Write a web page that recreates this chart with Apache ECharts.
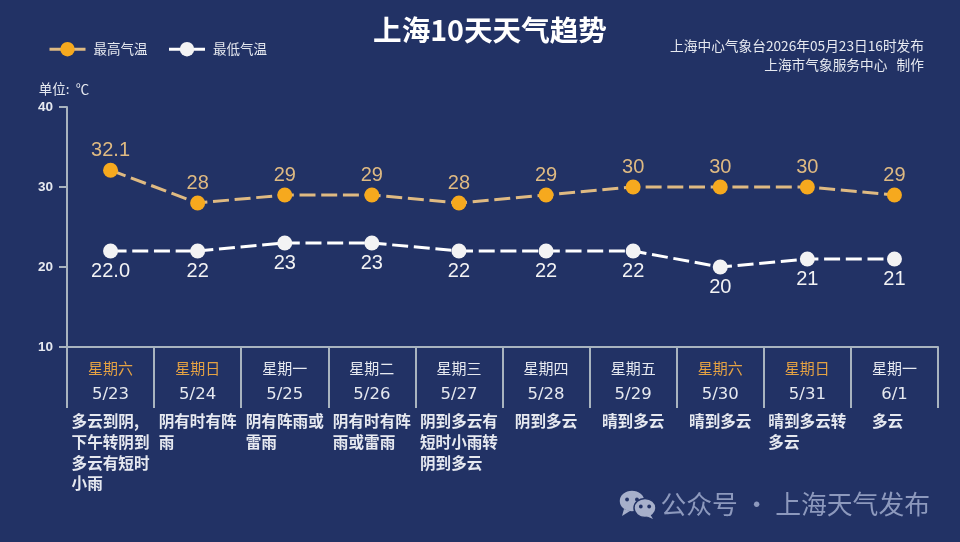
<!DOCTYPE html>
<html>
<head>
<meta charset="utf-8">
<style>html,body{margin:0;padding:0;background:#223265}#chart{width:960px;height:542px}</style>
<script src="https://cdn.jsdelivr.net/npm/echarts@6/dist/echarts.min.js"></script>
</head>
<body>
<div id="chart"></div>
<script>
// Ten-day temperature outlook for Shanghai
const dates = ['5/23','5/24','5/25','5/26','5/27','5/28','5/29','5/30','5/31','6/1'];
const weekdays = ['星期六','星期日','星期一','星期二','星期三','星期四','星期五','星期六','星期日','星期一'];
const conditions = [
  '多云到阴,\n下午转阴到\n多云有短时\n小雨',
  '阴有时有阵\n雨',
  '阴有阵雨或\n雷雨',
  '阴有时有阵\n雨或雷雨',
  '阴到多云有\n短时小雨转\n阴到多云',
  '阴到多云',
  '晴到多云',
  '晴到多云',
  '晴到多云转\n多云',
  '多云'
];
const highTemps = [32.1, 28, 29, 29, 28, 29, 30, 30, 30, 29];
const lowTemps = [22.0, 22, 23, 23, 22, 22, 22, 20, 21, 21];
const highLabels = ['32.1','28','29','29','28','29','30','30','30','29'];
const lowLabels = ['22.0','22','23','23','22','22','22','20','21','21'];
const yTicks = { min: 10, max: 40, step: 10 };

const BG = '#223265';
const AXIS = '#a9b4bf';
const ORANGE = '#f6a91e';
const TAN = '#dfba82';
const WHITE = '#f3f3f4';
const SOFT = '#e6e9f0';
const CJK = '"Noto Sans CJK SC","Noto Sans",sans-serif';
const LATIN = '"Liberation Sans",Arial,sans-serif';

const chart = echarts.init(document.getElementById('chart'), null, { renderer: 'canvas' });

const bubble = (cx, cy, rx, ry, tail) => [
  { type: 'ellipse', shape: { cx, cy, rx, ry }, style: { fill: '#a7b0cb', stroke: BG, lineWidth: 1.5 } },
  { type: 'polygon', shape: { points: tail }, style: { fill: '#a7b0cb' } },
  { type: 'circle', shape: { cx: cx - rx * 0.38, cy: cy - 1.5, r: 1.9 }, style: { fill: BG } },
  { type: 'circle', shape: { cx: cx + rx * 0.38, cy: cy - 1.5, r: 1.9 }, style: { fill: BG } }
];

chart.setOption({
  animation: false,
  backgroundColor: BG,
  title: [
    {
      text: '上海10天天气趋势', left: 485, top: 11, textAlign: 'center',
      textStyle: { color: '#ffffff', fontFamily: CJK, fontSize: 28.6, fontWeight: 'bold' }
    },
    {
      text: '上海中心气象台2026年05月23日16时发布\n上海市气象服务中心   制作',
      left: 919, top: 31, textAlign: 'right',
      textStyle: { color: SOFT, fontFamily: CJK, fontSize: 13.7, fontWeight: 'normal', lineHeight: 19, align: 'right' }
    },
    {
      text: '公众号 · 上海天气发布', left: 925, top: 486, textAlign: 'right',
      textStyle: { color: '#8d99bd', fontFamily: CJK, fontSize: 25.8, fontWeight: 'normal' }
    }
  ],
  legend: {
    left: 48, top: 42, padding: 0, itemWidth: 36, itemHeight: 18, itemGap: 20,
    textStyle: { color: SOFT, fontFamily: CJK, fontSize: 13.5, padding: [0, 0, 0, 3] },
    lineStyle: { type: 'solid', width: 3 },
    data: ['最高气温', '最低气温']
  },
  grid: { left: 67, right: 22, top: 107, bottom: 195 },
  xAxis: {
    type: 'category',
    data: dates,
    boundaryGap: true,
    axisLine: { lineStyle: { color: AXIS, width: 2 } },
    axisTick: { show: true, length: 61, alignWithLabel: false, lineStyle: { color: AXIS, width: 2 } },
    axisLabel: {
      margin: 10,
      interval: 0,
      formatter: (value, i) => {
        const tag = i === 0 || i === 1 || i === 7 || i === 8 ? 'we' : 'wd';
        const lines = conditions[i].split('\n').map(t => `{c|${t}}`).join('\n');
        return `{${tag}|${weekdays[i]}}\n{d|${value}}\n${lines}`;
      },
      rich: {
        wd: { color: SOFT, fontFamily: CJK, fontSize: 15, height: 22, lineHeight: 22, align: 'center' },
        we: { color: '#e5a243', fontFamily: CJK, fontSize: 15, height: 22, lineHeight: 22, align: 'center' },
        d: { color: SOFT, fontFamily: '"DejaVu Sans",sans-serif', fontSize: 16.5, height: 32, lineHeight: 32, align: 'center' },
        c: { color: SOFT, fontFamily: CJK, fontSize: 15.6, fontWeight: 'bold', height: 20.7, lineHeight: 20.7, align: 'left' }
      }
    }
  },
  yAxis: {
    type: 'value',
    min: yTicks.min, max: yTicks.max, interval: yTicks.step,
    name: '单位:  ℃',
    nameLocation: 'end',
    nameGap: 11,
    nameTextStyle: { color: SOFT, fontFamily: CJK, fontSize: 13.5, align: 'center', padding: [0, 6, 0, 0] },
    splitLine: { show: false },
    axisLine: { show: true, lineStyle: { color: AXIS, width: 2 } },
    axisTick: { show: true, length: 8, lineStyle: { color: AXIS, width: 2 } },
    axisLabel: { color: SOFT, fontFamily: LATIN, fontSize: 13.5, fontWeight: 'bold', margin: 14 }
  },
  series: [
    {
      name: '最高气温', type: 'line', data: highTemps, symbol: 'circle', symbolSize: 15,
      itemStyle: { color: ORANGE },
      lineStyle: { color: TAN, width: 3, type: [16, 5.7] },
      label: {
        show: true, position: 'top', distance: 2, color: TAN,
        fontFamily: LATIN, fontSize: 20,
        formatter: p => highLabels[p.dataIndex]
      },
      z: 3
    },
    {
      name: '最低气温', type: 'line', data: lowTemps, symbol: 'circle', symbolSize: 15,
      itemStyle: { color: WHITE },
      lineStyle: { color: '#ffffff', width: 3, type: [16, 5.7] },
      label: {
        show: true, position: 'bottom', distance: 3, color: WHITE,
        fontFamily: LATIN, fontSize: 20,
        formatter: p => lowLabels[p.dataIndex]
      },
      z: 3
    }
  ],
  graphic: [
    ...bubble(632, 501, 13, 11, [[624, 509], [622, 516], [630, 511]]),
    ...bubble(645, 508, 11, 9.5, [[650, 514], [653, 519], [646, 516]])
  ]
});
</script>
</body>
</html>
